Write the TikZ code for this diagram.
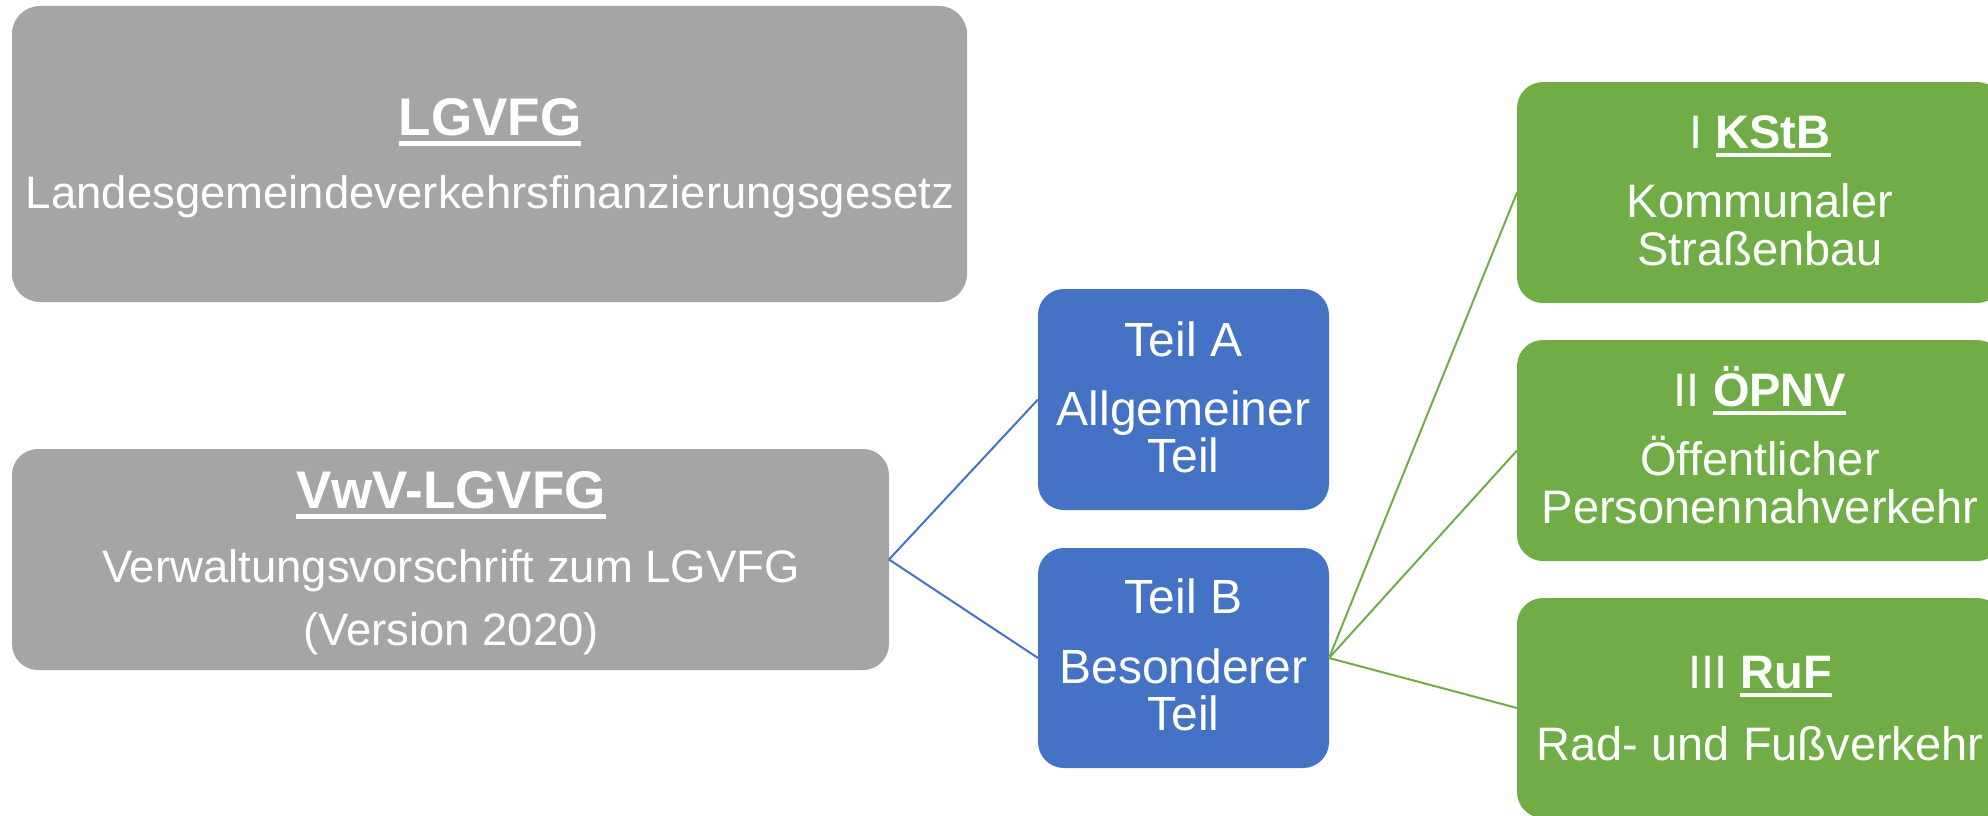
\documentclass[tikz,border=0pt]{standalone}
\usepackage{fontspec}
\setmainfont{Liberation Sans}
\newcommand\myul[1]{\setbox0=\hbox{#1}\rlap{\rule[-0.2em]{\wd0}{0.095em}}\box0}
\definecolor{boxgray}{HTML}{A5A5A5}
\definecolor{boxblue}{HTML}{4472C4}
\definecolor{boxgreen}{HTML}{70AD47}
\begin{document}
\begin{tikzpicture}[x=1pt,y=-1pt,
  box/.style={rectangle, rounded corners=26pt, inner sep=0pt, outer sep=0pt, anchor=north west, draw=none},
  graybox/.style={box, fill=boxgray},
  bluebox/.style={box, fill=boxblue},
  greenbox/.style={box, fill=boxgreen},
  txt/.style={anchor=base, text=white, inner sep=0pt, outer sep=0pt},
  gtitle/.style={txt, font=\fontsize{53}{53}\selectfont\bfseries},
  gsub/.style={txt, font=\fontsize{45.5}{45.5}\selectfont},
  btxt/.style={txt, font=\fontsize{48}{48}\selectfont},
  grtxt/.style={txt, font=\fontsize{47}{47}\selectfont},
  blueline/.style={draw=boxblue, line width=2pt},
  greenline/.style={draw=boxgreen, line width=2pt}]
\useasboundingbox (0,0) rectangle (1988,816);
\clip (0,0) rectangle (1988,816);
% boxes
\node[graybox, rounded corners=28pt, minimum width=955pt, minimum height=296pt] (lg) at (12,6) {};
\node[graybox, minimum width=877pt, minimum height=221pt] (vw) at (12,449) {};
\node[bluebox, minimum width=291pt, minimum height=221pt] (ta) at (1038,289) {};
\node[bluebox, minimum width=291pt, minimum height=220pt] (tb) at (1038,548) {};
\node[greenbox, minimum width=486pt, minimum height=221pt] (g1) at (1517,82) {};
\node[greenbox, minimum width=486pt, minimum height=221pt] (g2) at (1517,340) {};
\node[greenbox, minimum width=486pt, minimum height=220pt] (g3) at (1517,598) {};
% connectors
\draw[blueline] (vw.east) -- (ta.west);
\draw[blueline] (vw.east) -- (tb.west);
\draw[greenline] (tb.east) -- (g1.west);
\draw[greenline] (tb.east) -- (g2.west);
\draw[greenline] (tb.east) -- (g3.west);
% texts
\node[gtitle] (lgt1) at (490,135) {\myul{LGVFG}};
\node[gsub] (lgt2) at (490,208) {Landesgemeindeverkehrsfinanzierungsgesetz};
\node[gtitle] (vwt1) at (451,508) {\myul{VwV-LGVFG}};
\node[gsub] (vwt2) at (451,582) {Verwaltungsvorschrift zum LGVFG};
\node[gsub] (vwt3) at (451,645) {(Version 2020)};
\node[btxt] (tat1) at (1183.5,356) {Teil A};
\node[btxt] (tat2) at (1183.5,425) {Allgemeiner};
\node[btxt] (tat3) at (1183.5,472) {Teil};
\node[btxt] (tbt1) at (1183.5,613) {Teil B};
\node[btxt] (tbt2) at (1183.5,683) {Besonderer};
\node[btxt] (tbt3) at (1183.5,730) {Teil};
\node[grtxt] (g1t1) at (1760,148) {I \myul{\bfseries KStB}};
\node[grtxt] (g1t2) at (1760,217) {Kommunaler};
\node[grtxt] (g1t3) at (1760,265) {Straßenbau};
\node[grtxt] (g2t1) at (1760,406) {II \myul{\bfseries ÖPNV}};
\node[grtxt] (g2t2) at (1760,475) {Öffentlicher};
\node[grtxt] (g2t3) at (1760,523) {Personennahverkehr};
\node[grtxt] (g3t1) at (1760,688) {III \myul{\bfseries RuF}};
\node[grtxt] (g3t2) at (1760,760) {Rad- und Fußverkehr};
\end{tikzpicture}
\end{document}
